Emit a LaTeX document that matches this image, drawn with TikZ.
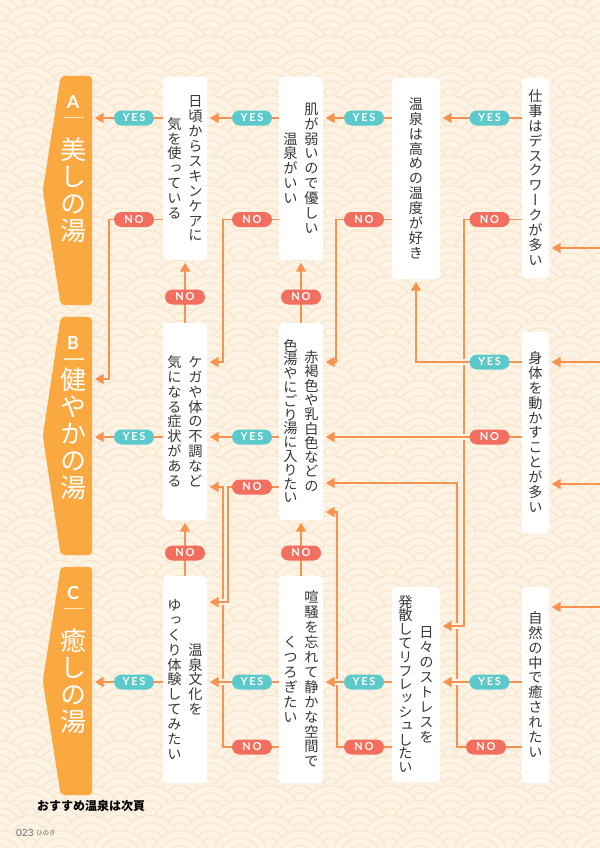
\documentclass[tikz,border=0pt]{standalone}
\usepackage{fontspec}
\usetikzlibrary{arrows.meta}
\newfontfamily\jp{Noto Sans CJK JP}
\newfontfamily\jpv[RawFeature=+vert]{Noto Sans CJK JP}
\newfontfamily\pillfont[LetterSpace=15]{Lato}
\newfontfamily\latf{Lato}
\definecolor{bgc}{RGB}{253,243,229}
\definecolor{patc}{RGB}{248,228,200}
\definecolor{linec}{RGB}{248,146,80}
\definecolor{yesc}{RGB}{92,201,203}
\definecolor{noc}{RGB}{242,110,94}
\definecolor{resc}{RGB}{250,168,64}
\definecolor{txtc}{RGB}{55,55,55}
\definecolor{palec}{RGB}{246,236,190}
\definecolor{pgc}{RGB}{110,110,110}
\pgfdeclarelayer{bg}
\pgfdeclarelayer{lines}
\pgfsetlayers{bg,lines,main}
\newlength\vgap
\def\vcolloop#1{\ifx\relax#1\else\kern0.88em\hbox to 1em{\hss\smash{#1}\hss}\kern0.12em\kern\vgap\expandafter\vcolloop\fi}
\newcommand\vcol[1]{\ensuremath{\vcenter{\offinterlineskip\vcolloop#1\relax\kern-\vgap}}}
\newcommand\vc[2][0.7bp]{{\setlength\vgap{#1}\vcol{#2}}}
\newcommand\qset{\jpv\fontsize{14.2bp}{15bp}\selectfont}
\newcommand\qone[1]{{\qset\vc{#1}}}
\newcommand\qtwo[2]{{\qset\vc{#2}\hspace{6.8bp}\vc{#1}}}
\begin{document}
\begin{tikzpicture}[x=1bp,y=-1bp,
  qbox/.style={fill=white,rounded corners=4bp,inner sep=0pt,text=txtc},
  pill/.style={rounded corners=7.5bp,minimum width=40bp,minimum height=15bp,inner sep=0pt,text=white,font=\pillfont\bfseries\fontsize{11bp}{11bp}\selectfont},
  yes/.style={pill,fill=yesc},
  no/.style={pill,fill=noc},
  conn/.style={draw=linec,line width=1.8bp},
  arr/.style={conn,-{Triangle[length=9bp,width=10bp]},shorten >=2.5bp},
  halo/.style={preaction={draw=bgc,line width=5.5bp,-}},
  res/.style={fill=resc,rounded corners=4bp},
  reslet/.style={text=white,font=\latf\bfseries\fontsize{18bp}{18bp}\selectfont,inner sep=0pt},
  restxt/.style={text=white,inner sep=0pt},
  pale/.style={draw=palec,line width=1.3bp}
]
\useasboundingbox (0,0) rectangle (600,848);
\begin{pgfonlayer}{bg}
\fill[bgc] (0,0) rectangle (600,848);
\begin{scope}
\clip (0,0) rectangle (600,848);
\foreach \j in {0,...,58}{
 \pgfmathsetmacro\yy{15*\j-10}
 \pgfmathsetmacro\xo{mod(\j,2)*30}
 \foreach \i in {-1,...,10}{
  \pgfmathsetmacro\xx{60*\i+\xo}
  \fill[bgc] (\xx,\yy) circle[radius=30bp];
  \draw[patc,line width=1.1bp] (\xx,\yy) circle[radius=29.4bp] circle[radius=22bp] circle[radius=14.6bp] circle[radius=7.2bp];
 }
}
\end{scope}
\end{pgfonlayer}

% question boxes
\node[qbox,minimum width=27bp,minimum height=200bp] (q1) at (535.5,178) {\qone{仕事はデスクワークが多い}};
\node[qbox,minimum width=27bp,minimum height=201bp] (q2) at (535.5,432.5) {\qone{身体を動かすことが多い}};
\node[qbox,minimum width=27bp,minimum height=196bp] (q3) at (535.5,685) {\qone{自然の中で癒されたい}};
\node[qbox,minimum width=48bp,minimum height=201bp] (q4) at (416,178.5) {\qone{温泉は高めの温度が好き}};
\node[qbox,minimum width=48bp,minimum height=195bp] (q5) at (416,684.5) {{\qset\vc[-0.4bp]{発散してリフレッシュしたい}\hspace{6.8bp}\vc{日々のストレスを}}};
\node[qbox,minimum width=44bp,minimum height=183bp] (q6) at (301,168.5) {\qtwo{肌が弱いので優しい}{温泉がいい}};
\node[qbox,minimum width=44bp,minimum height=197bp] (q7) at (301,421.5) {{\qset\vc[-0.4bp]{色湯やにごり湯に入りたい}\hspace{6.8bp}\vc[0.1bp]{赤褐色や乳白色などの}}};
\node[qbox,minimum width=44bp,minimum height=207bp] (q8) at (301,679.5) {\qtwo{喧騒を忘れて静かな空間で}{くつろぎたい}};
\node[qbox,minimum width=44bp,minimum height=183bp] (q9) at (185,168.5) {\qtwo{日頃からスキンケアに}{気を使っている}};
\node[qbox,minimum width=44bp,minimum height=197bp] (q10) at (185,421.5) {\qtwo{ケガや体の不調など}{気になる症状がある}};
\node[qbox,minimum width=44bp,minimum height=207bp] (q11) at (185,679.5) {\qtwo{温泉文化を}{ゆっくり体験してみたい}};

% result boxes
\node[minimum width=31bp,minimum height=229bp,inner sep=0pt] (resA) at (76.5,190.5) {};
\node[minimum width=31bp,minimum height=238bp,inner sep=0pt] (resB) at (76.5,436) {};
\node[minimum width=31bp,minimum height=228bp,inner sep=0pt] (resC) at (76.5,681) {};
\foreach \r in {resA,resB,resC}{
  \fill[res] (\r.north east) -- (\r.north west) -- ([xshift=-18bp]\r.west) -- (\r.south west) -- (\r.south east) -- cycle;
}
\node[reslet] (la) at (73,102) {A};
\node[reslet] (lb) at (73,343) {B};
\node[reslet] (lc) at (73,593) {C};
\draw[pale] (64,117.5) -- (84,117.5);
\draw[pale] (64,359) -- (84,359);
\draw[pale] (64,608.5) -- (84,608.5);
\node[restxt] (ta) at (73,190.5) {\jpv\fontsize{26bp}{27bp}\selectfont\vc[1bp]{美しの湯}};
\node[restxt] (tb) at (73,434) {\jpv\fontsize{26bp}{27bp}\selectfont\vc[1bp]{健やかの湯}};
\node[restxt] (tc) at (73,681.5) {\jpv\fontsize{26bp}{27bp}\selectfont\vc[1bp]{癒しの湯}};

% pills
\node[yes] (y1) at (489.5,118) {YES};
\node[no]  (n1) at (489.5,219.5) {NO};
\node[yes] (y4) at (364,118) {YES};
\node[no]  (n4) at (364,219.5) {NO};
\node[yes] (y6) at (252,118) {YES};
\node[no]  (n6) at (252,219.5) {NO};
\node[yes] (y9) at (134,118) {YES};
\node[no]  (n9) at (134,219.5) {NO};
\node[yes] (y2) at (489.5,362) {YES};
\node[no]  (n2) at (489.5,437) {NO};
\node[yes] (y7) at (252,437) {YES};
\node[no]  (n7) at (252,487) {NO};
\node[yes] (y10) at (134,437) {YES};
\node[yes] (y3) at (489.5,682) {YES};
\node[no]  (n3) at (486,747) {NO};
\node[yes] (y5) at (364,682) {YES};
\node[no]  (n5) at (364,747) {NO};
\node[yes] (y8) at (252,682) {YES};
\node[no]  (n8) at (252,747) {NO};
\node[yes] (y11) at (134,682) {YES};
\node[no]  (v6) at (301,297) {NO};
\node[no]  (v9) at (185,297) {NO};
\node[no]  (v7) at (301,553) {NO};
\node[no]  (v10) at (185,553) {NO};

% bottom texts
\node[anchor=west,inner sep=0pt,font=\jp\bfseries\fontsize{12bp}{12bp}\selectfont] (note) at (37,806) {おすすめ温泉は次頁};
\node[anchor=west,inner sep=0pt,text=pgc,font=\latf\fontsize{10bp}{10bp}\selectfont] (pnum) at (16,833) {023};
\node[anchor=west,inner sep=0pt,text=pgc,font=\jp\fontsize{6.5bp}{7bp}\selectfont] (pname) at (36,833) {ひのき};

% connectors
\begin{pgfonlayer}{lines}
\coordinate (in1) at (600,248);
\coordinate (in2) at (600,362);
\coordinate (in3) at (600,484);
\coordinate (in4) at (600,607);
\coordinate (k1a) at (464,219.5); \coordinate (k1b) at (464,626);
\coordinate (k4a) at (336,219.5); \coordinate (k4b) at (336,362);
\coordinate (k6a) at (223,219.5); \coordinate (k6b) at (223,362);
\coordinate (k9a) at (109,219.5); \coordinate (k9b) at (109,379);
\coordinate (k2) at (416,362);
\coordinate (k7a) at (228,487); \coordinate (k7b) at (228,602);
\coordinate (k3a) at (457,747); \coordinate (k3b) at (457,483);
\coordinate (k5a) at (337,747); \coordinate (k5b) at (337,512);
\coordinate (k8a) at (223,747); \coordinate (k8b) at (223,487);

\draw[arr] (in1) -- (q1.east |- in1);
\draw[arr] (in2) -- (q2.east |- in2);
\draw[arr] (in3) -- (q2.east |- in3);
\draw[arr] (in4) -- (q3.east |- in4);

\draw[arr] (q3.west |- n3) -- (k3a) -- (k3b) -- (q7.east |- k3b);
\draw[arr] (q8.west |- n8) -- (k8a) -- (k8b) -- (q10.east |- k8b);
\draw[arr] (q5.west |- n5) -- (k5a) -- (k5b) -- (q7.east |- k5b);
\draw[arr,halo] (q1.west |- n1) -- (k1a) -- (k1b) -- (q5.east |- k1b);
\draw[arr,halo] (q7.west |- n7) -- (k7a) -- (k7b) -- (q11.east |- k7b);
\draw[arr,halo] (q2.west |- y2) -- (k2) -- (q4.south);
\draw[arr,halo] (q2.west |- n2) -- (q7.east |- n2);
\draw[arr,halo] (q3.west |- y3) -- (q5.east |- y3);
\draw[arr,halo] (q5.west |- y5) -- (q8.east |- y5);
\draw[arr,halo] (q8.west |- y8) -- (q11.east |- y8);
\draw[arr] (q4.west |- n4) -- (k4a) -- (k4b) -- (q7.east |- k4b);
\draw[arr] (q6.west |- n6) -- (k6a) -- (k6b) -- (q10.east |- k6b);
\draw[arr] (q9.west |- n9) -- (k9a) -- (k9b) -- (resB.east |- k9b);

\draw[arr] (q1.west |- y1) -- (q4.east |- y1);
\draw[arr] (q4.west |- y4) -- (q6.east |- y4);
\draw[arr] (q6.west |- y6) -- (q9.east |- y6);
\draw[arr] (q9.west |- y9) -- (resA.east |- y9);
\draw[arr] (q7.west |- y7) -- (q10.east |- y7);
\draw[arr] (q10.west |- y10) -- (resB.east |- y10);
\draw[arr] (q11.west |- y11) -- (resC.east |- y11);

\draw[arr] (q7.north) -- (q6.south);
\draw[arr] (q10.north) -- (q9.south);
\draw[arr] (q8.north) -- (q7.south);
\draw[arr] (q11.north) -- (q10.south);
\end{pgfonlayer}
\end{tikzpicture}
\end{document}
